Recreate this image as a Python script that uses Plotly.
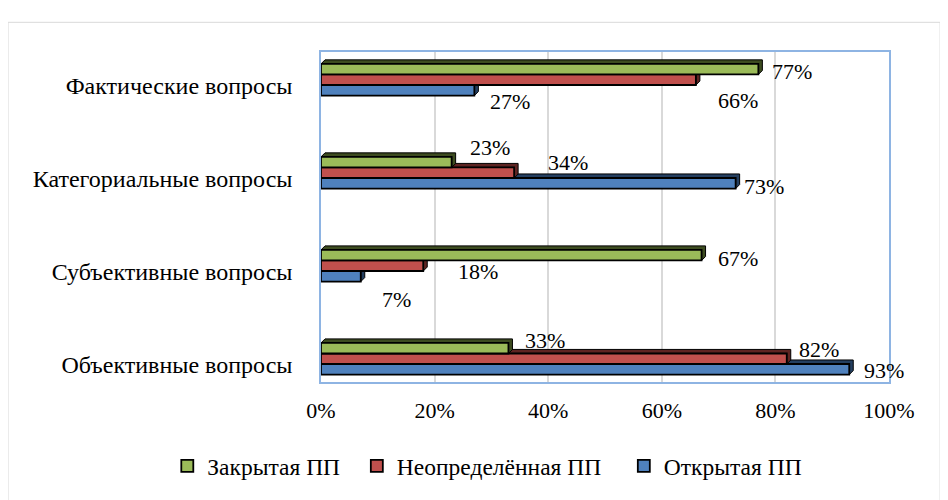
import plotly.graph_objects as go

categories = ["Объективные вопросы", "Субъективные вопросы", "Категориальные вопросы", "Фактические вопросы"]
open_pp = [0.93, 0.07, 0.73, 0.27]
undef_pp = [0.82, 0.18, 0.34, 0.66]
closed_pp = [0.33, 0.67, 0.23, 0.77]
series_names = ["Открытая ПП", "Неопределённая ПП", "Закрытая ПП"]
series_colors = ["#4F81BD", "#C0504D", "#9BBB59"]
series_dark = ["#243F60", "#5E2422", "#3D4C20"]
tick_vals = [0, 0.2, 0.4, 0.6, 0.8, 1.0]
tick_text = ["0%", "20%", "40%", "60%", "80%", "100%"]

# label placement (pixel nudges, styling only), per series, per category
label_dx = [[13, 19, 6, 14], [10, 33, 32, 20], [15, 14, 16, 12]]
label_dy = [[1, 23, 3, 11], [-9, 6, -10, 21], [-8, 3, -15, 2]]
legend_pad = ["", "\u00a0\u00a0\u00a0", "\u00a0\u00a0"]

FONT = "Liberation Serif, Times New Roman, serif"
BARGAP = 0.66
PLOT_W = 568
UNIT_PX = 93.83
bar_units = (1 - BARGAP) / 3
half_px = bar_units * UNIT_PX / 2
DEPTH_PX = 4
depth_x = DEPTH_PX / PLOT_W

fig = go.Figure()
annotations = []
shapes = []
for si, (name, vals, col) in enumerate(zip(series_names, [open_pp, undef_pp, closed_pp], series_colors)):
    fig.add_trace(go.Bar(
        y=categories, x=vals, orientation="h", name=name + legend_pad[si],
        marker=dict(color=col, line=dict(color="black", width=1.8)),
    ))
    for ci, (cat, v) in enumerate(zip(categories, vals)):
        yc = ci + (si - 1) * bar_units
        h = half_px
        d = DEPTH_PX
        path = (f"M 0,{h} L {v},{h} L {v},{-h} L {v + depth_x},{-h + d} "
                f"L {v + depth_x},{h + d} L {depth_x},{h + d} Z")
        shapes.append(dict(type="path", xref="x", yref="y", xsizemode="scaled",
                           ysizemode="pixel", yanchor=yc, path=path,
                           fillcolor=series_dark[si], line=dict(color="black", width=1),
                           layer="between"))
        annotations.append(dict(
            x=v, y=cat, xref="x", yref="y", text=f"{round(v*100)}%",
            showarrow=False, xanchor="left", yanchor="middle",
            xshift=label_dx[si][ci], yshift=(si - 1) * 2 * h - label_dy[si][ci],
            font=dict(family=FONT, size=22, color="black"),
        ))

shapes.append(dict(type="rect", xref="paper", yref="paper", x0=-0.551, x1=1.090,
                   y0=-0.36, y1=1.09, line=dict(color="#D9D9D9", width=1), layer="below"))

fig.update_layout(
    width=940, height=492,
    barmode="group", bargap=BARGAP, bargroupgap=0,
    margin=dict(l=313, r=59, t=44, b=115),
    paper_bgcolor="white", plot_bgcolor="white",
    font=dict(family=FONT, size=22, color="black"),
    xaxis=dict(range=[0, 1], tickvals=tick_vals, ticktext=tick_text,
               showgrid=True, gridcolor="#D9D9D9", gridwidth=2,
               showline=True, linecolor="#8EB4E3", linewidth=1.5, mirror=True,
               ticks="", ticklabelstandoff=8, zeroline=False,
               tickfont=dict(size=22)),
    yaxis=dict(range=[-0.25, 3.298], showline=True, linecolor="#8EB4E3", linewidth=1.5,
               mirror=True, ticks="", ticklabelstandoff=22, ticklabelshift=6,
               showgrid=False, tickfont=dict(size=24)),
    legend=dict(orientation="h", x=-0.2706, xanchor="left", y=-0.255, yanchor="middle",
                traceorder="reversed", font=dict(size=23.5), itemwidth=30),
    showlegend=True,
    annotations=annotations,
    shapes=shapes,
)

fig.write_html("out.html")
